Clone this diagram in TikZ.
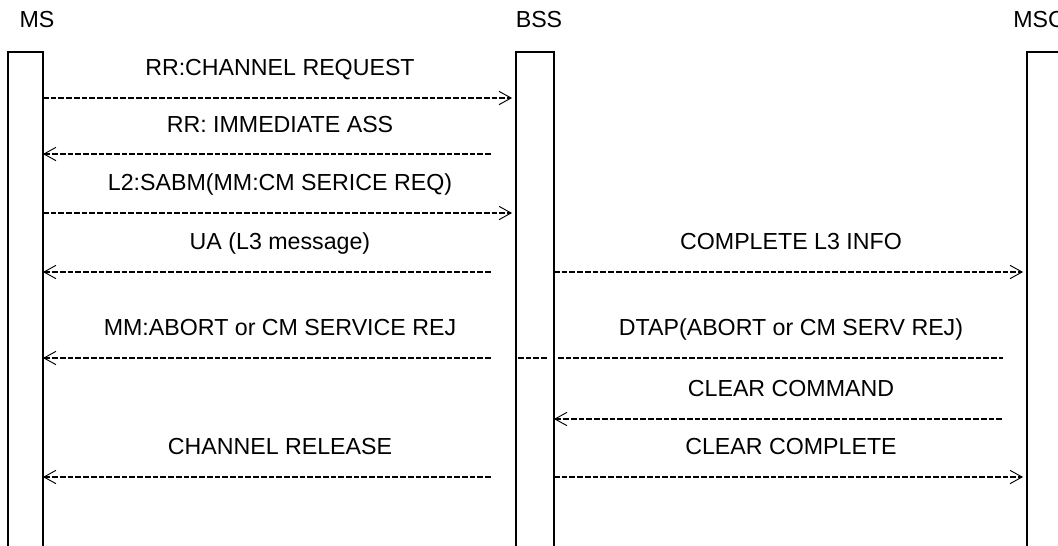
\documentclass[tikz,border=0pt]{standalone}
\usepackage{fontspec}
\setmainfont{Liberation Sans}
\usetikzlibrary{arrows.meta}
\tikzset{
    lifebox/.style={draw, line width=1.5pt},
    msg/.style={line width=1pt, dash pattern=on 4.3pt off 1.5pt,
        >={Straight Barb[length=9pt,width=10pt,line width=0.7pt]}},
    fwd/.style={->, shorten >=3pt},
    back/.style={<-, shorten >=18pt},
    lbl/.style={font=\fontsize{17.4}{20}\selectfont, anchor=base, inner sep=0pt}
}
\begin{document}
\begin{tikzpicture}[x=0.75pt, y=-0.75pt]
        \useasboundingbox (0,0) rectangle (1058,546);
        \clip (0,0) rectangle (1058,546);
        % Entities
        \node[lbl] (msname) at (37,27) {MS};
        \node[lbl] (bssname) at (539,27) {BSS};
        \node[lbl, anchor=base west] (mscname) at (1013,27) {MSC};
        % Lifelines
        \draw[lifebox] (8,52) rectangle (43,560);
        \draw[lifebox] (516,52) rectangle (554,560);
        \draw[lifebox] (1027,52) rectangle (1070,560);
        % Message rows
        \foreach \y [count=\i] in {98,154,213,272,358,419,477}{
            \coordinate (ms\i) at (43,\y);
            \coordinate (bssw\i) at (516,\y);
            \coordinate (bsse\i) at (554,\y);
            \coordinate (msc\i) at (1027,\y);
        }
        % MS - BSS
        \draw[msg, fwd] (ms1) -- (bssw1);
        \node[lbl] (chreq) at (280,75) {RR:CHANNEL REQUEST};
        \draw[msg, back] (ms2) -- (bssw2);
        \node[lbl] (immass) at (280,132) {RR: IMMEDIATE ASS};
        \draw[msg, fwd] (ms3) -- (bssw3);
        \node[lbl] (sabm) at (280,190) {L2:SABM(MM:CM SERICE REQ)};
        \draw[msg, back] (ms4) -- (bssw4);
        \node[lbl] (ua) at (280,249) {UA (L3 message)};
        \draw[msg, back] (ms5) -- (bssw5);
        \node[lbl] (abort) at (280,335) {MM:ABORT or CM SERVICE REJ};
        \draw[msg, back] (ms7) -- (bssw7);
        \node[lbl] (chrel) at (280,454) {CHANNEL RELEASE};
        % BSS - MSC
        \draw[msg, fwd] (bsse4) -- (msc4);
        \node[lbl] (l3info) at (791,249) {COMPLETE L3 INFO};
        \draw[msg, shorten <=1.5pt, shorten >=4.5pt] (bssw5) -- (bsse5);
        \draw[msg, shorten <=3pt, shorten >=18pt] (bsse5) -- (msc5);
        \node[lbl] (dtap) at (791,335) {DTAP(ABORT or CM SERV REJ)};
        \draw[msg, back] (bsse6) -- (msc6);
        \node[lbl] (clrcmd) at (791,396) {CLEAR COMMAND};
        \draw[msg, fwd] (bsse7) -- (msc7);
        \node[lbl] (clrcmp) at (791,454) {CLEAR COMPLETE};
    \end{tikzpicture}
\end{document}
